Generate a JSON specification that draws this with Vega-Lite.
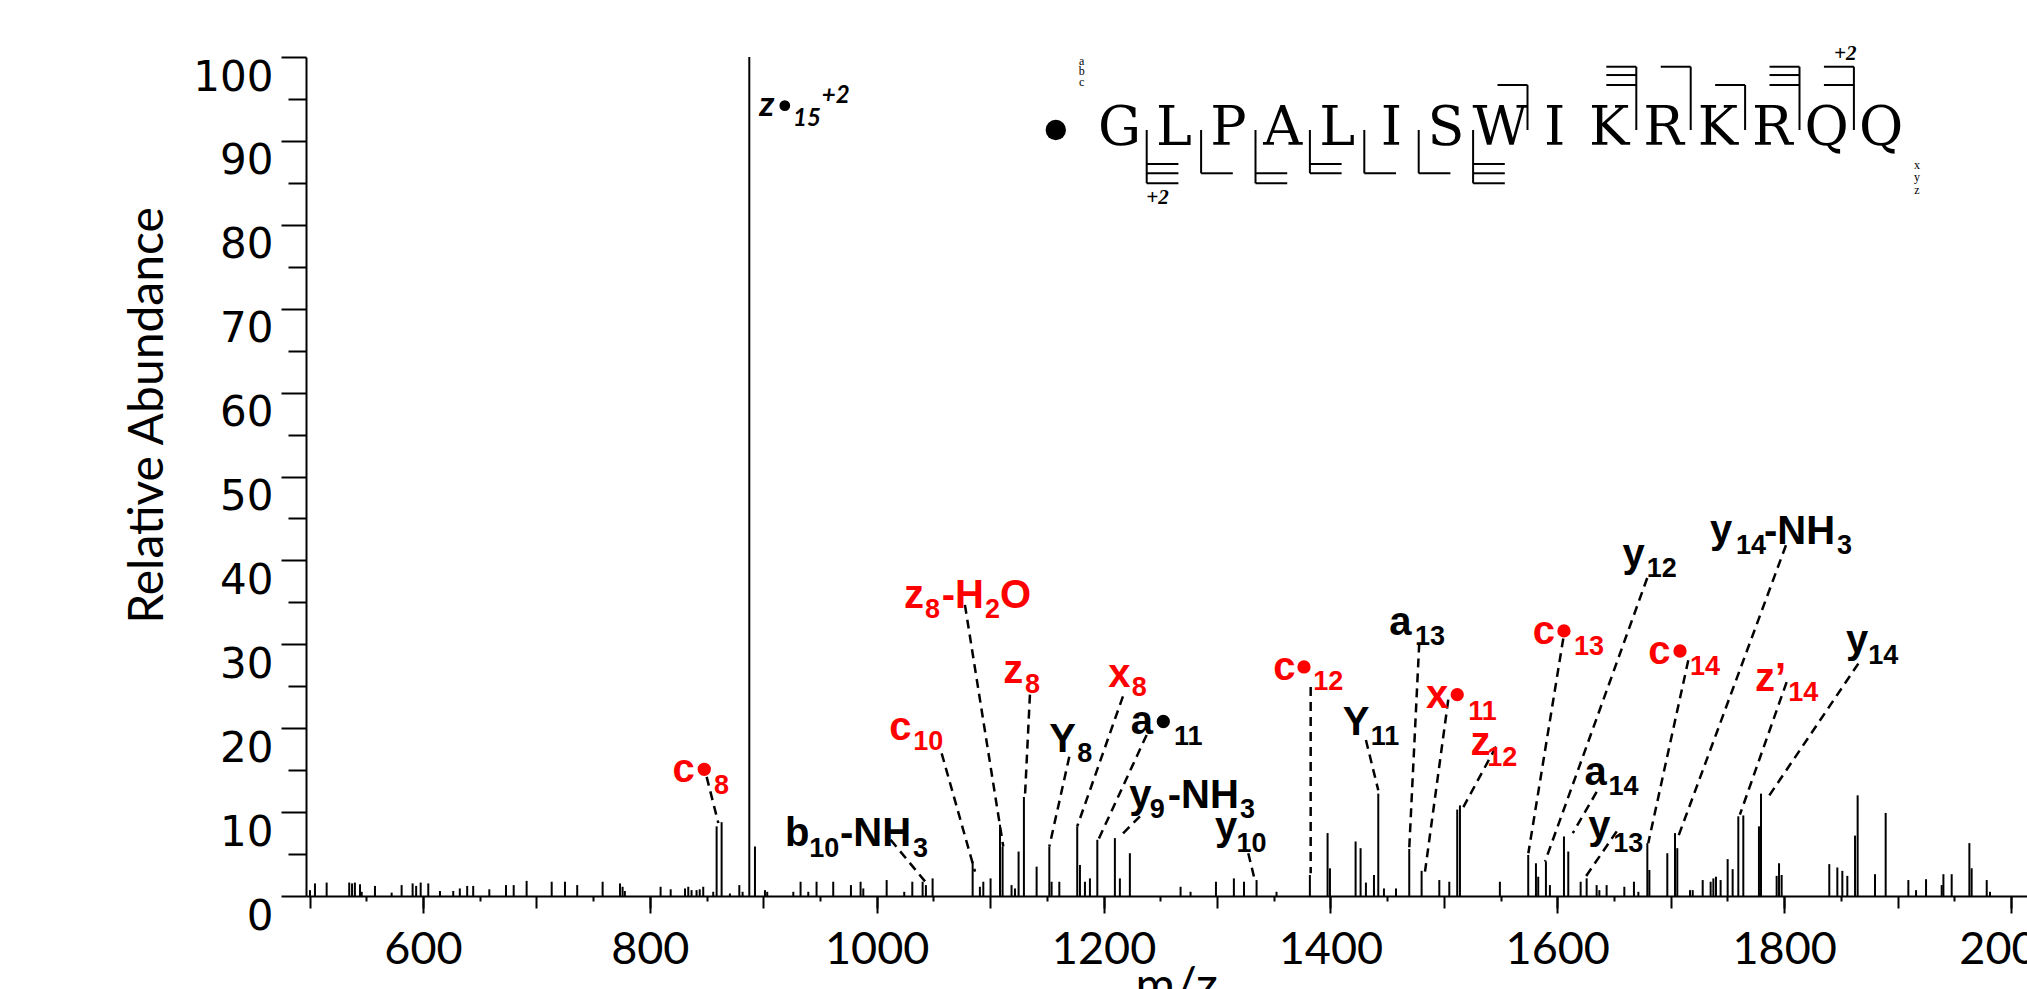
{
  "$schema": "https://vega.github.io/schema/vega-lite/v6.json",
  "width": 1721,
  "height": 839,
  "autosize": {"type": "none"},
  "padding": {"left": 306, "top": 57, "right": 0, "bottom": 93},
  "background": "white",
  "config": {
    "view": {"stroke": null},
    "axis": {"grid": false, "domainColor": "black", "tickColor": "black", "labelColor": "black", "titleColor": "black"}
  },
  "datasets": {
    "peaks": [
      {"mz": 500.4, "ab": 0.7}, {"mz": 504.8, "ab": 1.5}, {"mz": 515.1, "ab": 1.6}, {"mz": 535.0, "ab": 1.6},
      {"mz": 537.5, "ab": 1.5}, {"mz": 540.0, "ab": 1.6}, {"mz": 544.5, "ab": 1.4}, {"mz": 546.0, "ab": 0.5},
      {"mz": 557.7, "ab": 1.2}, {"mz": 572.4, "ab": 0.4}, {"mz": 581.2, "ab": 1.3}, {"mz": 590.9, "ab": 1.5},
      {"mz": 594.0, "ab": 1.2}, {"mz": 598.0, "ab": 1.6}, {"mz": 604.7, "ab": 1.5}, {"mz": 615.0, "ab": 0.6},
      {"mz": 626.7, "ab": 0.6}, {"mz": 632.5, "ab": 0.9}, {"mz": 639.0, "ab": 1.2}, {"mz": 644.3, "ab": 1.2},
      {"mz": 658.5, "ab": 0.8}, {"mz": 673.2, "ab": 1.3}, {"mz": 680.0, "ab": 1.3}, {"mz": 691.4, "ab": 1.8},
      {"mz": 713.5, "ab": 1.7}, {"mz": 725.2, "ab": 1.7}, {"mz": 736.0, "ab": 1.3}, {"mz": 758.4, "ab": 1.7},
      {"mz": 773.7, "ab": 1.5}, {"mz": 776.0, "ab": 1.1}, {"mz": 778.0, "ab": 0.6}, {"mz": 809.5, "ab": 1.1},
      {"mz": 818.4, "ab": 0.8}, {"mz": 831.0, "ab": 0.9}, {"mz": 833.9, "ab": 1.1}, {"mz": 836.8, "ab": 0.7},
      {"mz": 841.2, "ab": 0.7}, {"mz": 844.0, "ab": 0.8}, {"mz": 847.1, "ab": 1.1}, {"mz": 855.9, "ab": 0.5},
      {"mz": 858.9, "ab": 8.3}, {"mz": 863.3, "ab": 8.8}, {"mz": 870.6, "ab": 0.3}, {"mz": 878.9, "ab": 1.3},
      {"mz": 881.8, "ab": 0.5}, {"mz": 887.7, "ab": 100}, {"mz": 892.7, "ab": 5.9}, {"mz": 901.5, "ab": 0.7},
      {"mz": 903.5, "ab": 0.5}, {"mz": 926.5, "ab": 0.5}, {"mz": 932.9, "ab": 1.7}, {"mz": 939.7, "ab": 0.5},
      {"mz": 947.0, "ab": 1.7}, {"mz": 961.7, "ab": 1.7}, {"mz": 977.3, "ab": 1.3}, {"mz": 985.8, "ab": 1.7},
      {"mz": 988.2, "ab": 0.9}, {"mz": 1008.8, "ab": 1.9}, {"mz": 1024.3, "ab": 0.5}, {"mz": 1031.4, "ab": 1.7},
      {"mz": 1040.5, "ab": 1.7}, {"mz": 1043.4, "ab": 1.3}, {"mz": 1049.3, "ab": 2.1}, {"mz": 1084.6, "ab": 4.1},
      {"mz": 1091.0, "ab": 1.1}, {"mz": 1094.0, "ab": 1.7}, {"mz": 1100.4, "ab": 2.1}, {"mz": 1108.7, "ab": 8.5},
      {"mz": 1111.0, "ab": 5.9}, {"mz": 1118.9, "ab": 1.3}, {"mz": 1121.9, "ab": 0.9}, {"mz": 1125.1, "ab": 5.3},
      {"mz": 1129.8, "ab": 11.8}, {"mz": 1141.0, "ab": 3.5}, {"mz": 1152.2, "ab": 5.9}, {"mz": 1154.2, "ab": 1.7},
      {"mz": 1161.0, "ab": 1.7}, {"mz": 1176.8, "ab": 8.3}, {"mz": 1179.2, "ab": 3.7}, {"mz": 1183.6, "ab": 1.7},
      {"mz": 1188.0, "ab": 2.1}, {"mz": 1194.5, "ab": 6.7}, {"mz": 1210.0, "ab": 6.9}, {"mz": 1214.4, "ab": 2.1},
      {"mz": 1223.2, "ab": 5.1}, {"mz": 1267.9, "ab": 1.1}, {"mz": 1276.7, "ab": 0.5}, {"mz": 1299.1, "ab": 1.7},
      {"mz": 1314.9, "ab": 2.1}, {"mz": 1323.8, "ab": 1.7}, {"mz": 1334.9, "ab": 1.9}, {"mz": 1352.5, "ab": 0.5},
      {"mz": 1381.9, "ab": 2.5}, {"mz": 1397.5, "ab": 7.5}, {"mz": 1399.6, "ab": 3.3}, {"mz": 1422.2, "ab": 6.5},
      {"mz": 1426.6, "ab": 5.7}, {"mz": 1431.3, "ab": 1.6}, {"mz": 1438.4, "ab": 2.5}, {"mz": 1442.2, "ab": 12.2},
      {"mz": 1447.2, "ab": 0.9}, {"mz": 1457.8, "ab": 0.9}, {"mz": 1469.5, "ab": 5.6}, {"mz": 1480.4, "ab": 3.0},
      {"mz": 1496.0, "ab": 1.9}, {"mz": 1504.8, "ab": 1.7}, {"mz": 1511.8, "ab": 10.3}, {"mz": 1514.2, "ab": 10.8},
      {"mz": 1549.4, "ab": 1.7}, {"mz": 1574.4, "ab": 4.9}, {"mz": 1581.2, "ab": 3.9}, {"mz": 1583.2, "ab": 2.3},
      {"mz": 1590.0, "ab": 4.1}, {"mz": 1593.5, "ab": 1.3}, {"mz": 1605.9, "ab": 7.1}, {"mz": 1609.7, "ab": 5.3},
      {"mz": 1620.6, "ab": 1.7}, {"mz": 1625.9, "ab": 2.1}, {"mz": 1634.7, "ab": 1.3}, {"mz": 1637.1, "ab": 0.7},
      {"mz": 1643.5, "ab": 1.3}, {"mz": 1659.1, "ab": 1.1}, {"mz": 1667.6, "ab": 1.7}, {"mz": 1671.5, "ab": 0.5},
      {"mz": 1679.4, "ab": 6.3}, {"mz": 1681.2, "ab": 3.1}, {"mz": 1697.0, "ab": 5.1}, {"mz": 1703.8, "ab": 7.5},
      {"mz": 1705.8, "ab": 5.7}, {"mz": 1717.0, "ab": 0.7}, {"mz": 1719.4, "ab": 0.7}, {"mz": 1728.2, "ab": 1.9},
      {"mz": 1735.2, "ab": 1.7}, {"mz": 1737.6, "ab": 2.1}, {"mz": 1739.9, "ab": 2.3}, {"mz": 1744.0, "ab": 1.9},
      {"mz": 1750.2, "ab": 4.4}, {"mz": 1754.6, "ab": 3.2}, {"mz": 1759.6, "ab": 9.5}, {"mz": 1764.0, "ab": 9.6},
      {"mz": 1777.8, "ab": 8.3}, {"mz": 1779.6, "ab": 12.2}, {"mz": 1793.4, "ab": 2.4}, {"mz": 1795.5, "ab": 3.9},
      {"mz": 1797.8, "ab": 2.5}, {"mz": 1839.8, "ab": 3.8}, {"mz": 1846.9, "ab": 3.4}, {"mz": 1851.3, "ab": 3.0},
      {"mz": 1855.7, "ab": 2.4}, {"mz": 1862.5, "ab": 7.2}, {"mz": 1864.8, "ab": 12.0}, {"mz": 1880.1, "ab": 2.6},
      {"mz": 1889.5, "ab": 9.9}, {"mz": 1909.5, "ab": 1.9}, {"mz": 1916.3, "ab": 0.7}, {"mz": 1925.1, "ab": 2.0},
      {"mz": 1938.9, "ab": 1.3}, {"mz": 1940.4, "ab": 2.6}, {"mz": 1947.7, "ab": 2.6}, {"mz": 1963.3, "ab": 6.3},
      {"mz": 1965.3, "ab": 3.3}, {"mz": 1978.6, "ab": 1.9}, {"mz": 1981.5, "ab": 0.5}
    ],
    "leaders": [
      {"mz": 850.1, "ab": 14.2, "mz2": 860.4, "ab2": 8.7},
      {"mz": 1077.8, "ab": 34.7, "mz2": 1111.6, "ab2": 5.9},
      {"mz": 1057.3, "ab": 17.0, "mz2": 1086.7, "ab2": 2.9},
      {"mz": 1135.1, "ab": 24.0, "mz2": 1130.7, "ab2": 11.8},
      {"mz": 1169.8, "ab": 16.6, "mz2": 1152.2, "ab2": 5.9},
      {"mz": 1012.3, "ab": 6.7, "mz2": 1044.1, "ab2": 1.5},
      {"mz": 1217.1, "ab": 23.8, "mz2": 1176.8, "ab2": 8.3},
      {"mz": 1238.0, "ab": 19.2, "mz2": 1195.4, "ab2": 6.7},
      {"mz": 1232.1, "ab": 9.5, "mz2": 1214.5, "ab2": 7.1},
      {"mz": 1327.6, "ab": 5.1, "mz2": 1332.6, "ab2": 2.3},
      {"mz": 1382.6, "ab": 24.9, "mz2": 1382.6, "ab2": 2.7},
      {"mz": 1431.3, "ab": 18.6, "mz2": 1442.2, "ab2": 12.6},
      {"mz": 1478.3, "ab": 30.1, "mz2": 1469.5, "ab2": 5.7},
      {"mz": 1503.9, "ab": 23.4, "mz2": 1483.4, "ab2": 2.9},
      {"mz": 1546.0, "ab": 17.8, "mz2": 1517.2, "ab2": 10.6},
      {"mz": 1605.3, "ab": 30.7, "mz2": 1574.5, "ab2": 5.1},
      {"mz": 1679.3, "ab": 37.9, "mz2": 1589.2, "ab2": 4.1},
      {"mz": 1634.7, "ab": 12.4, "mz2": 1613.7, "ab2": 7.5},
      {"mz": 1652.4, "ab": 7.7, "mz2": 1623.0, "ab2": 1.9},
      {"mz": 1715.5, "ab": 28.1, "mz2": 1680.2, "ab2": 6.3},
      {"mz": 1801.6, "ab": 41.8, "mz2": 1706.7, "ab2": 7.1},
      {"mz": 1802.2, "ab": 25.5, "mz2": 1761.0, "ab2": 9.7},
      {"mz": 1865.4, "ab": 27.7, "mz2": 1786.0, "ab2": 11.8}
    ],
    "labels": [
      {"t": "c", "mz": 820.1, "ab": 13.6, "role": "main", "series": "c/x/z ions"},
      {"t": "8", "mz": 856.5, "ab": 12.2, "role": "sub", "series": "c/x/z ions"},
      {"t": "z", "mz": 1024.1, "ab": 34.3, "role": "main", "series": "c/x/z ions"},
      {"t": "8", "mz": 1042.6, "ab": 33.1, "role": "sub", "series": "c/x/z ions"},
      {"t": "-H", "mz": 1057.3, "ab": 34.3, "role": "main", "series": "c/x/z ions"},
      {"t": "2", "mz": 1095.4, "ab": 33.1, "role": "sub", "series": "c/x/z ions"},
      {"t": "O", "mz": 1108.7, "ab": 34.3, "role": "main", "series": "c/x/z ions"},
      {"t": "c", "mz": 1011.1, "ab": 18.6, "role": "main", "series": "c/x/z ions"},
      {"t": "10", "mz": 1032.3, "ab": 17.4, "role": "sub", "series": "c/x/z ions"},
      {"t": "z", "mz": 1111.6, "ab": 25.4, "role": "main", "series": "c/x/z ions"},
      {"t": "8", "mz": 1130.7, "ab": 24.2, "role": "sub", "series": "c/x/z ions"},
      {"t": "Y", "mz": 1152.2, "ab": 17.2, "role": "main", "series": "a/b/y ions"},
      {"t": "8", "mz": 1176.9, "ab": 16.0, "role": "sub", "series": "a/b/y ions"},
      {"t": "b", "mz": 919.1, "ab": 5.9, "role": "main", "series": "a/b/y ions"},
      {"t": "10", "mz": 940.6, "ab": 4.7, "role": "sub", "series": "a/b/y ions"},
      {"t": "-NH", "mz": 967.6, "ab": 5.9, "role": "main", "series": "a/b/y ions"},
      {"t": "3", "mz": 1032.0, "ab": 4.7, "role": "sub", "series": "a/b/y ions"},
      {"t": "x", "mz": 1204.2, "ab": 24.9, "role": "main", "series": "c/x/z ions"},
      {"t": "8", "mz": 1224.8, "ab": 23.8, "role": "sub", "series": "c/x/z ions"},
      {"t": "a", "mz": 1223.9, "ab": 19.3, "role": "main", "series": "a/b/y ions"},
      {"t": "11", "mz": 1262.1, "ab": 18.0, "role": "sub", "series": "a/b/y ions"},
      {"t": "y", "mz": 1222.7, "ab": 10.5, "role": "main", "series": "a/b/y ions"},
      {"t": "9", "mz": 1240.8, "ab": 9.3, "role": "sub", "series": "a/b/y ions"},
      {"t": "-NH", "mz": 1256.6, "ab": 10.5, "role": "main", "series": "a/b/y ions"},
      {"t": "3", "mz": 1320.4, "ab": 9.3, "role": "sub", "series": "a/b/y ions"},
      {"t": "y", "mz": 1298.2, "ab": 6.7, "role": "main", "series": "a/b/y ions"},
      {"t": "10", "mz": 1317.3, "ab": 5.3, "role": "sub", "series": "a/b/y ions"},
      {"t": "c", "mz": 1349.6, "ab": 25.7, "role": "main", "series": "c/x/z ions"},
      {"t": "12", "mz": 1384.9, "ab": 24.6, "role": "sub", "series": "c/x/z ions"},
      {"t": "Y", "mz": 1410.8, "ab": 19.2, "role": "main", "series": "a/b/y ions"},
      {"t": "11", "mz": 1435.5, "ab": 18.0, "role": "sub", "series": "a/b/y ions"},
      {"t": "a", "mz": 1451.9, "ab": 31.1, "role": "main", "series": "a/b/y ions"},
      {"t": "13", "mz": 1474.5, "ab": 29.9, "role": "sub", "series": "a/b/y ions"},
      {"t": "x", "mz": 1484.2, "ab": 22.4, "role": "main", "series": "c/x/z ions"},
      {"t": "11", "mz": 1521.5, "ab": 21.0, "role": "sub", "series": "c/x/z ions"},
      {"t": "z", "mz": 1523.6, "ab": 16.8, "role": "main", "series": "c/x/z ions"},
      {"t": "12", "mz": 1538.3, "ab": 15.5, "role": "sub", "series": "c/x/z ions"},
      {"t": "c", "mz": 1578.3, "ab": 30.0, "role": "main", "series": "c/x/z ions"},
      {"t": "13", "mz": 1614.7, "ab": 28.7, "role": "sub", "series": "c/x/z ions"},
      {"t": "y", "mz": 1657.6, "ab": 39.2, "role": "main", "series": "a/b/y ions"},
      {"t": "12", "mz": 1678.8, "ab": 38.0, "role": "sub", "series": "a/b/y ions"},
      {"t": "a", "mz": 1623.9, "ab": 13.2, "role": "main", "series": "a/b/y ions"},
      {"t": "14", "mz": 1645.1, "ab": 12.0, "role": "sub", "series": "a/b/y ions"},
      {"t": "y", "mz": 1627.4, "ab": 6.8, "role": "main", "series": "a/b/y ions"},
      {"t": "13", "mz": 1649.4, "ab": 5.3, "role": "sub", "series": "a/b/y ions"},
      {"t": "c", "mz": 1680.2, "ab": 27.7, "role": "main", "series": "c/x/z ions"},
      {"t": "14", "mz": 1717.0, "ab": 26.3, "role": "sub", "series": "c/x/z ions"},
      {"t": "y", "mz": 1734.6, "ab": 42.1, "role": "main", "series": "a/b/y ions"},
      {"t": "14", "mz": 1757.5, "ab": 40.8, "role": "sub", "series": "a/b/y ions"},
      {"t": "-NH", "mz": 1782.2, "ab": 42.0, "role": "main", "series": "a/b/y ions"},
      {"t": "3", "mz": 1846.6, "ab": 40.8, "role": "sub", "series": "a/b/y ions"},
      {"t": "z’", "mz": 1774.3, "ab": 24.4, "role": "main", "series": "c/x/z ions"},
      {"t": "14", "mz": 1803.7, "ab": 23.2, "role": "sub", "series": "c/x/z ions"},
      {"t": "y", "mz": 1854.5, "ab": 29.0, "role": "main", "series": "a/b/y ions"},
      {"t": "14", "mz": 1874.2, "ab": 27.7, "role": "sub", "series": "a/b/y ions"}
    ],
    "dots": [
      {"mz": 848.0, "ab": 15.1, "series": "c/x/z ions"},
      {"mz": 1252.7, "ab": 20.8, "series": "a/b/y ions"},
      {"mz": 1376.7, "ab": 27.3, "series": "c/x/z ions"},
      {"mz": 1511.8, "ab": 24.0, "series": "c/x/z ions"},
      {"mz": 1605.9, "ab": 31.6, "series": "c/x/z ions"},
      {"mz": 1708.2, "ab": 29.2, "series": "c/x/z ions"}
    ],
    "precursor": [
      {"t": "z", "mz": 896.5, "ab": 93.0, "role": "main"},
      {"t": "15", "mz": 926.2, "ab": 91.8, "role": "sub"},
      {"t": "+2", "mz": 951.6, "ab": 94.5, "role": "sub"}
    ],
    "residues": [
      {"pos": 1, "aa": "G"}, {"pos": 2, "aa": "L"}, {"pos": 3, "aa": "P"}, {"pos": 4, "aa": "A"},
      {"pos": 5, "aa": "L"}, {"pos": 6, "aa": "I"}, {"pos": 7, "aa": "S"}, {"pos": 8, "aa": "W"},
      {"pos": 9, "aa": "I"}, {"pos": 10, "aa": "K"}, {"pos": 11, "aa": "R"}, {"pos": 12, "aa": "K"},
      {"pos": 13, "aa": "R"}, {"pos": 14, "aa": "Q"}, {"pos": 15, "aa": "Q"}
    ],
    "brackets": [
      {"p1": 1.5, "v1": 91.3, "p2": 1.5, "v2": 84.95},
      {"p1": 1.5, "v1": 87.25, "p2": 2.083, "v2": 87.25},
      {"p1": 1.5, "v1": 86.14, "p2": 2.083, "v2": 86.14},
      {"p1": 1.5, "v1": 84.95, "p2": 2.083, "v2": 84.95},
      {"p1": 2.5, "v1": 91.3, "p2": 2.5, "v2": 86.14},
      {"p1": 2.5, "v1": 86.14, "p2": 3.083, "v2": 86.14},
      {"p1": 3.5, "v1": 91.3, "p2": 3.5, "v2": 84.95},
      {"p1": 3.5, "v1": 86.14, "p2": 4.083, "v2": 86.14},
      {"p1": 3.5, "v1": 84.95, "p2": 4.083, "v2": 84.95},
      {"p1": 4.5, "v1": 91.3, "p2": 4.5, "v2": 86.14},
      {"p1": 4.5, "v1": 87.25, "p2": 5.083, "v2": 87.25},
      {"p1": 4.5, "v1": 86.14, "p2": 5.083, "v2": 86.14},
      {"p1": 5.5, "v1": 91.3, "p2": 5.5, "v2": 86.14},
      {"p1": 5.5, "v1": 86.14, "p2": 6.083, "v2": 86.14},
      {"p1": 6.5, "v1": 91.3, "p2": 6.5, "v2": 86.14},
      {"p1": 6.5, "v1": 86.14, "p2": 7.083, "v2": 86.14},
      {"p1": 7.5, "v1": 91.3, "p2": 7.5, "v2": 84.95},
      {"p1": 7.5, "v1": 87.25, "p2": 8.083, "v2": 87.25},
      {"p1": 7.5, "v1": 86.14, "p2": 8.083, "v2": 86.14},
      {"p1": 7.5, "v1": 84.95, "p2": 8.083, "v2": 84.95},
      {"p1": 8.5, "v1": 91.3, "p2": 8.5, "v2": 96.66},
      {"p1": 7.949, "v1": 96.66, "p2": 8.5, "v2": 96.66},
      {"p1": 10.5, "v1": 91.3, "p2": 10.5, "v2": 98.84},
      {"p1": 9.949, "v1": 98.84, "p2": 10.5, "v2": 98.84},
      {"p1": 9.949, "v1": 97.85, "p2": 10.5, "v2": 97.85},
      {"p1": 9.949, "v1": 96.66, "p2": 10.5, "v2": 96.66},
      {"p1": 11.5, "v1": 91.3, "p2": 11.5, "v2": 98.84},
      {"p1": 10.949, "v1": 98.84, "p2": 11.5, "v2": 98.84},
      {"p1": 12.5, "v1": 91.3, "p2": 12.5, "v2": 96.66},
      {"p1": 11.949, "v1": 96.66, "p2": 12.5, "v2": 96.66},
      {"p1": 13.5, "v1": 91.3, "p2": 13.5, "v2": 98.84},
      {"p1": 12.949, "v1": 98.84, "p2": 13.5, "v2": 98.84},
      {"p1": 12.949, "v1": 97.85, "p2": 13.5, "v2": 97.85},
      {"p1": 12.949, "v1": 96.66, "p2": 13.5, "v2": 96.66},
      {"p1": 14.5, "v1": 91.3, "p2": 14.5, "v2": 98.84},
      {"p1": 13.949, "v1": 98.84, "p2": 14.5, "v2": 98.84},
      {"p1": 13.949, "v1": 96.66, "p2": 14.5, "v2": 96.66}
    ],
    "seqkey": [
      {"t": "a", "pos": 0.305, "v": 99.1}, {"t": "b", "pos": 0.305, "v": 97.8}, {"t": "c", "pos": 0.305, "v": 96.5},
      {"t": "x", "pos": 15.66, "v": 86.6}, {"t": "y", "pos": 15.66, "v": 85.2}, {"t": "z", "pos": 15.66, "v": 83.7}
    ],
    "charges": [
      {"t": "+2", "pos": 1.70, "v": 82.44},
      {"t": "+2", "pos": 14.34, "v": 99.6}
    ],
    "nterm": [{"pos": -0.171, "v": 91.3}]
  },
  "layer": [
    {
      "layer": [
        {
          "data": {"name": "peaks"},
          "mark": {"type": "rule", "color": "black", "strokeWidth": 2},
          "encoding": {
            "x": {"field": "mz", "type": "quantitative", "scale": {"domain": [496.9, 2014.1], "nice": false, "zero": false},
              "axis": {"values": [600, 800, 1000, 1200, 1400, 1600, 1800, 2000], "orient": "bottom", "format": "d",
                "tickSize": 17, "tickWidth": 2, "domainWidth": 2, "labelFont": "Lato", "labelFontSize": 45,
                "labelBaseline": "top", "labelPadding": 14, "labelFlush": false, "labelOverlap": false,
                "title": "m/z", "titleFont": "Lato", "titleFontSize": 48, "titleFontWeight": "normal",
                "titleX": 870, "titleY": 105, "titleBaseline": "alphabetic", "titleAlign": "center"}},
            "y": {"field": "ab", "type": "quantitative", "scale": {"domain": [0, 100], "nice": false},
              "axis": {"values": [0, 10, 20, 30, 40, 50, 60, 70, 80, 90, 100], "orient": "left", "format": "d",
                "tickSize": 25, "tickWidth": 2, "domainWidth": 2, "labelFont": "DejaVu Sans", "labelFontSize": 42,
                "labelBaseline": "top", "labelPadding": 8, "labelFlush": false, "labelOverlap": false,
                "title": "Relative Abundance", "titleFont": "Lato", "titleFontSize": 48, "titleFontWeight": "normal",
                "titleX": -144, "titleY": 358, "titleAngle": -90, "titleBaseline": "alphabetic", "titleAlign": "center"}},
            "y2": {"datum": 0}
          }
        },
        {
          "data": {"name": "leaders"},
          "mark": {"type": "rule", "color": "black", "strokeWidth": 2.5, "strokeDash": [9, 6]},
          "encoding": {
            "x": {"field": "mz", "type": "quantitative", "scale": {"domain": [496.9, 2014.1], "nice": false, "zero": false},
              "axis": {"values": [500, 600, 700, 800, 900, 1000, 1100, 1200, 1300, 1400, 1500, 1600, 1700, 1800, 1900, 2000],
                "orient": "bottom", "tickSize": 12, "tickWidth": 2, "labels": false, "domain": false, "title": null}},
            "x2": {"field": "mz2"},
            "y": {"field": "ab", "type": "quantitative", "scale": {"domain": [0, 100], "nice": false},
              "axis": {"values": [5, 15, 25, 35, 45, 55, 65, 75, 85, 95], "orient": "left",
                "tickSize": 18, "tickWidth": 2, "labels": false, "domain": false, "title": null}},
            "y2": {"field": "ab2"}
          }
        },
        {
          "data": {"name": "labels"},
          "transform": [{"filter": "datum.role === 'main'"}],
          "mark": {"type": "text", "font": "Liberation Sans", "fontWeight": "bold", "fontSize": 40, "align": "left", "baseline": "alphabetic"},
          "encoding": {
            "x": {"field": "mz", "type": "quantitative", "scale": {"domain": [496.9, 2014.1], "nice": false, "zero": false},
              "axis": {"values": [550, 650, 750, 850, 950, 1050, 1150, 1250, 1350, 1450, 1550, 1650, 1750, 1850, 1950],
                "orient": "bottom", "tickSize": 5, "tickWidth": 2, "labels": false, "domain": false, "title": null}},
            "y": {"field": "ab", "type": "quantitative", "axis": null},
            "text": {"field": "t"},
            "color": {"field": "series", "type": "nominal", "scale": {"domain": ["c/x/z ions", "a/b/y ions"], "range": ["#ff0000", "#000000"]}, "legend": null}
          }
        },
        {
          "data": {"name": "labels"},
          "transform": [{"filter": "datum.role === 'sub'"}],
          "mark": {"type": "text", "font": "Liberation Sans", "fontWeight": "bold", "fontSize": 27, "align": "left", "baseline": "alphabetic"},
          "encoding": {
            "x": {"field": "mz", "type": "quantitative", "axis": null},
            "y": {"field": "ab", "type": "quantitative", "axis": null},
            "text": {"field": "t"},
            "color": {"field": "series", "type": "nominal", "scale": {"domain": ["c/x/z ions", "a/b/y ions"], "range": ["#ff0000", "#000000"]}, "legend": null}
          }
        },
        {
          "data": {"name": "dots"},
          "mark": {"type": "point", "shape": "circle", "filled": true, "size": 177, "opacity": 1},
          "encoding": {
            "x": {"field": "mz", "type": "quantitative", "axis": null},
            "y": {"field": "ab", "type": "quantitative", "axis": null},
            "color": {"field": "series", "type": "nominal", "scale": {"domain": ["c/x/z ions", "a/b/y ions"], "range": ["#ff0000", "#000000"]}, "legend": null}
          }
        },
        {
          "data": {"name": "precursor"},
          "transform": [{"filter": "datum.role === 'main'"}],
          "mark": {"type": "text", "font": "Lato", "fontWeight": "bold", "fontStyle": "italic", "fontSize": 35, "align": "left", "baseline": "alphabetic", "color": "black"},
          "encoding": {
            "x": {"field": "mz", "type": "quantitative", "axis": null},
            "y": {"field": "ab", "type": "quantitative", "axis": null},
            "text": {"field": "t"}
          }
        },
        {
          "data": {"name": "precursor"},
          "transform": [{"filter": "datum.role === 'sub'"}],
          "mark": {"type": "text", "font": "Lato", "fontWeight": "bold", "fontStyle": "italic", "fontSize": 24, "align": "left", "baseline": "alphabetic", "color": "black"},
          "encoding": {
            "x": {"field": "mz", "type": "quantitative", "axis": null},
            "y": {"field": "ab", "type": "quantitative", "axis": null},
            "text": {"field": "t"}
          }
        },
        {
          "data": {"values": [{"mz": 919.0, "ab": 94.2}]},
          "mark": {"type": "point", "shape": "circle", "filled": true, "size": 115, "color": "black", "opacity": 1},
          "encoding": {
            "x": {"field": "mz", "type": "quantitative", "axis": null},
            "y": {"field": "ab", "type": "quantitative", "axis": null}
          }
        }
      ],
      "resolve": {"axis": {"x": "independent", "y": "independent"}}
    },
    {
      "layer": [
        {
          "data": {"name": "residues"},
          "mark": {"type": "text", "font": "DejaVu Serif", "fontSize": 54, "align": "center", "baseline": "alphabetic", "color": "black"},
          "encoding": {
            "x": {"field": "pos", "type": "quantitative", "scale": {"domain": [-13.954, 17.682], "nice": false, "zero": false}, "axis": null},
            "y": {"datum": 89.5, "type": "quantitative", "axis": null},
            "text": {"field": "aa"}
          }
        },
        {
          "data": {"name": "brackets"},
          "mark": {"type": "rule", "color": "black", "strokeWidth": 2},
          "encoding": {
            "x": {"field": "p1", "type": "quantitative", "axis": null},
            "x2": {"field": "p2"},
            "y": {"field": "v1", "type": "quantitative", "axis": null},
            "y2": {"field": "v2"}
          }
        },
        {
          "data": {"name": "seqkey"},
          "mark": {"type": "text", "font": "Liberation Serif", "fontSize": 12, "align": "center", "baseline": "alphabetic", "color": "black"},
          "encoding": {
            "x": {"field": "pos", "type": "quantitative", "axis": null},
            "y": {"field": "v", "type": "quantitative", "axis": null},
            "text": {"field": "t"}
          }
        },
        {
          "data": {"name": "charges"},
          "mark": {"type": "text", "font": "Liberation Serif", "fontWeight": "bold", "fontStyle": "italic", "fontSize": 21, "align": "center", "baseline": "alphabetic", "color": "black"},
          "encoding": {
            "x": {"field": "pos", "type": "quantitative", "axis": null},
            "y": {"field": "v", "type": "quantitative", "axis": null},
            "text": {"field": "t"}
          }
        },
        {
          "data": {"name": "nterm"},
          "mark": {"type": "point", "shape": "circle", "filled": true, "size": 415, "color": "black", "opacity": 1},
          "encoding": {
            "x": {"field": "pos", "type": "quantitative", "axis": null},
            "y": {"field": "v", "type": "quantitative", "axis": null}
          }
        }
      ]
    }
  ],
  "resolve": {"scale": {"x": "independent"}}
}
